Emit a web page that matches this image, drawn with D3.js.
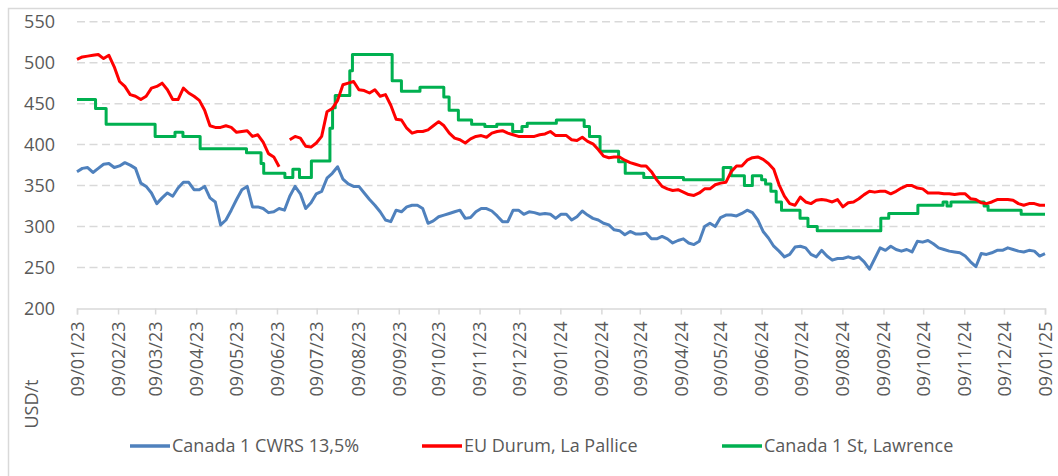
<!DOCTYPE html>
<html>
<head>
<meta charset="utf-8">
<script src="https://cdn.jsdelivr.net/npm/d3@7"></script>
<style>
  body { margin: 0; background: #fff; }
  svg { display: block; font-family: 'Open Sans', 'Noto Sans', sans-serif; }
</style>
</head>
<body>
<div class="main"></div>
<script>
const w = 1058;
const h = 476;

// daily-ish series, one value every ~4 days from 09/01/23 to 09/01/25
const startDate = new Date(2023, 0, 9);
const endDate = new Date(2025, 0, 9);

const cwrsValues = [
  367, 371, 372, 366, 371, 376, 377, 372, 374, 378, 375, 371, 353, 349, 341, 328, 335, 341, 337, 347,
  354, 354, 345, 345, 349, 335, 330, 302, 308, 320, 333, 345, 349, 324, 324, 322, 317, 318, 322, 320,
  337, 349, 340, 322, 329, 340, 343, 359, 365, 373, 358, 352, 349, 349, 341, 333, 326, 318, 308, 306,
  320, 318, 324, 326, 326, 322, 304, 307, 312, 314, 316, 318, 320, 310, 311, 318, 322, 322, 319, 313,
  306, 306, 320, 320, 315, 318, 317, 315, 316, 315, 310, 315, 315, 308, 312, 319, 314, 310, 308, 304,
  302, 296, 295, 290, 294, 291, 291, 292, 285, 285, 288, 285, 280, 283, 285, 280, 278, 282, 300, 304,
  300, 311, 314, 314, 313, 316, 320, 317, 308, 294, 286, 276, 270, 263, 266, 275, 276, 274, 266, 263,
  271, 264, 259, 261, 261, 263, 261, 263, 257, 248, 261, 274, 271, 276, 272, 270, 272, 269, 282, 281,
  283, 279, 274, 272, 270, 269, 268, 264, 257, 251, 267, 266, 268, 271, 271, 274, 272, 270, 269, 271,
  270, 264, 267
];

const durumValues = [
  504, 507, 508, 509, 510, 505, 509, 495, 477, 471, 461, 459, 455, 459, 469, 471, 475, 467, 455, 455,
  469, 463, 459, 454, 442, 423, 421, 421, 423, 421, 415, 416, 417, 410, 412, 403, 389, 385, 373, null,
  406, 410, 408, 398, 397, 402, 410, 440, 444, 454, 473, 475, 477, 467, 466, 463, 467, 459, 461, 448,
  431, 430, 420, 414, 416, 416, 418, 423, 428, 423, 414, 408, 406, 402, 407, 410, 411, 409, 414, 416,
  417, 414, 412, 410, 410, 410, 410, 412, 413, 416, 411, 411, 411, 406, 405, 409, 404, 401, 394, 386,
  384, 385, 385, 381, 378, 376, 374, 374, 367, 357, 349, 346, 344, 345, 342, 339, 338, 341, 346, 346,
  351, 353, 354, 367, 374, 374, 381, 384, 385, 382, 377, 370, 351, 337, 328, 326, 336, 330, 328, 332,
  333, 332, 330, 333, 324, 329, 330, 334, 339, 343, 342, 343, 343, 340, 343, 347, 350, 350, 347, 346,
  341, 341, 341, 340, 340, 339, 340, 340, 334, 333, 329, 328, 330, 333, 333, 333, 332, 328, 326, 328,
  328, 326, 326
];

// St Lawrence quote only changes now and then: dates of change and new level
const lawrenceDates = [
  '2023-01-09', '2023-01-23', '2023-01-31', '2023-03-09', '2023-03-24', '2023-03-30', '2023-04-12',
  '2023-05-17', '2023-05-28', '2023-05-30', '2023-06-15', '2023-06-21', '2023-06-26', '2023-07-05',
  '2023-07-19', '2023-07-21', '2023-07-23', '2023-08-03', '2023-08-05', '2023-09-04', '2023-09-11',
  '2023-09-25', '2023-10-13', '2023-10-17', '2023-10-24', '2023-11-03', '2023-11-13', '2023-11-22',
  '2023-12-04', '2023-12-11', '2023-12-15', '2024-01-06', '2024-01-27', '2024-01-31', '2024-02-08',
  '2024-02-22', '2024-02-27', '2024-03-12', '2024-04-11', '2024-05-11', '2024-05-17', '2024-05-27',
  '2024-06-02', '2024-06-09', '2024-06-12', '2024-06-16', '2024-06-20', '2024-06-24', '2024-07-08',
  '2024-07-14', '2024-07-21', '2024-08-03', '2024-09-07', '2024-09-13', '2024-10-05', '2024-10-24',
  '2024-10-27', '2024-10-30', '2024-11-24', '2024-11-27', '2024-12-22', '2025-01-09'
];
const lawrenceValues = [
  455, 444, 425, 410, 415, 410, 395,
  390, 377, 365, 360, 370, 360, 380,
  420, 445, 460, 490, 510, 478, 465,
  470, 458, 442, 430, 425, 422, 425,
  416, 422, 426, 430, 422, 410, 392,
  379, 365, 360, 357, 372, 362, 350,
  362, 357, 352, 343, 330, 320, 310,
  300, 295, 295, 310, 316, 326, 330,
  325, 330, 325, 320, 315, 315
];

const yTicks = [200, 250, 300, 350, 400, 450, 500, 550];
const monthTicks = d3.range(25).map((k) => new Date(2023, k, 9));

const seriesNames = ['Canada 1 CWRS 13,5%', 'EU Durum, La Pallice', 'Canada 1 St, Lawrence'];
const seriesColors = ['#4f81bd', '#ff0000', '#00b050'];

const plotLeft = 77;
const plotRight = 1045;
const plotTop = 21.7;
const plotBottom = 308.5;

const svg = d3.select('.main').append('svg').attr('width', w).attr('height', h);

svg.append('rect').attr('width', w).attr('height', h).attr('fill', '#fff');
svg
  .append('rect')
  .attr('x', 8.5)
  .attr('y', 8.5)
  .attr('width', w + 20)
  .attr('height', h + 20)
  .attr('fill', 'none')
  .attr('stroke', '#d9d9d9')
  .attr('stroke-width', 1.5);

const x = d3.scaleTime().domain([startDate, endDate]).range([plotLeft, plotRight]);
const y = d3.scaleLinear().domain([200, 550]).range([plotBottom, plotTop]);

const span = endDate - startDate;
const dateAt = (i, n) => new Date(startDate.getTime() + (i * span) / (n - 1));

// grid
svg
  .append('g')
  .selectAll('line')
  .data(yTicks.slice(1))
  .enter()
  .append('line')
  .attr('x1', plotLeft)
  .attr('x2', plotRight)
  .attr('y1', (d) => y(d))
  .attr('y2', (d) => y(d))
  .attr('stroke', '#d9d9d9')
  .attr('stroke-width', 1.5)
  .attr('stroke-dasharray', '8,4.5');

// y axis labels
const yAxis = svg
  .append('g')
  .attr('transform', `translate(${plotLeft},0)`)
  .call(d3.axisLeft(y).tickValues(yTicks).tickSize(0).tickPadding(22));
yAxis.select('.domain').remove();
yAxis.selectAll('text').attr('font-size', 18).attr('fill', '#595959').attr('font-family', null);
yAxis.attr('font-family', null);

// x axis
const xAxis = svg
  .append('g')
  .attr('transform', `translate(0,${plotBottom})`)
  .call(d3.axisBottom(x).tickValues(monthTicks).tickSize(6).tickFormat(d3.timeFormat('%d/%m/%y')));
xAxis.attr('font-family', null);
xAxis.select('.domain').attr('stroke', '#d9d9d9').attr('stroke-width', 1.5);
xAxis.selectAll('.tick line').attr('stroke', '#d9d9d9').attr('stroke-width', 1.5);
xAxis
  .selectAll('text')
  .attr('font-size', 18)
  .attr('fill', '#595959')
  .attr('text-anchor', 'end')
  .attr('transform', 'rotate(-90)')
  .attr('x', -13)
  .attr('y', 0)
  .attr('dy', '0.35em');

svg
  .append('text')
  .attr('transform', 'translate(38,404) rotate(-90)')
  .attr('text-anchor', 'middle')
  .attr('font-size', 18)
  .attr('fill', '#595959')
  .text('USD/t');

// lines
const gridLine = (values) =>
  d3
    .line()
    .defined((d) => d !== null)
    .x((d, i) => x(dateAt(i, values.length)))
    .y((d) => y(d));

const parseDate = d3.timeParse('%Y-%m-%d');
const lawrence = lawrenceDates.map((d, i) => ({ date: parseDate(d), value: lawrenceValues[i] }));
const stepLine = d3
  .line()
  .x((d) => x(d.date))
  .y((d) => y(d.value))
  .curve(d3.curveStepAfter);

const lines = svg.append('g').attr('fill', 'none').attr('stroke-width', 3).attr('stroke-linejoin', 'round');

lines.append('path').attr('stroke', seriesColors[0]).attr('d', gridLine(cwrsValues)(cwrsValues));
lines.append('path').attr('stroke', seriesColors[2]).attr('d', stepLine(lawrence));
lines.append('path').attr('stroke', seriesColors[1]).attr('d', gridLine(durumValues)(durumValues));

// legend
const legendX = [130, 422, 722];
const legend = svg
  .append('g')
  .selectAll('g')
  .data(seriesNames)
  .enter()
  .append('g')
  .attr('transform', (d, i) => `translate(${legendX[i]},446)`);
legend
  .append('line')
  .attr('x1', 0)
  .attr('x2', 40)
  .attr('stroke', (d, i) => seriesColors[i])
  .attr('stroke-width', 3.5);
legend
  .append('text')
  .attr('x', 42)
  .attr('dy', '0.35em')
  .attr('font-size', 18)
  .attr('fill', '#595959')
  .text((d) => d);
</script>
</body>
</html>
